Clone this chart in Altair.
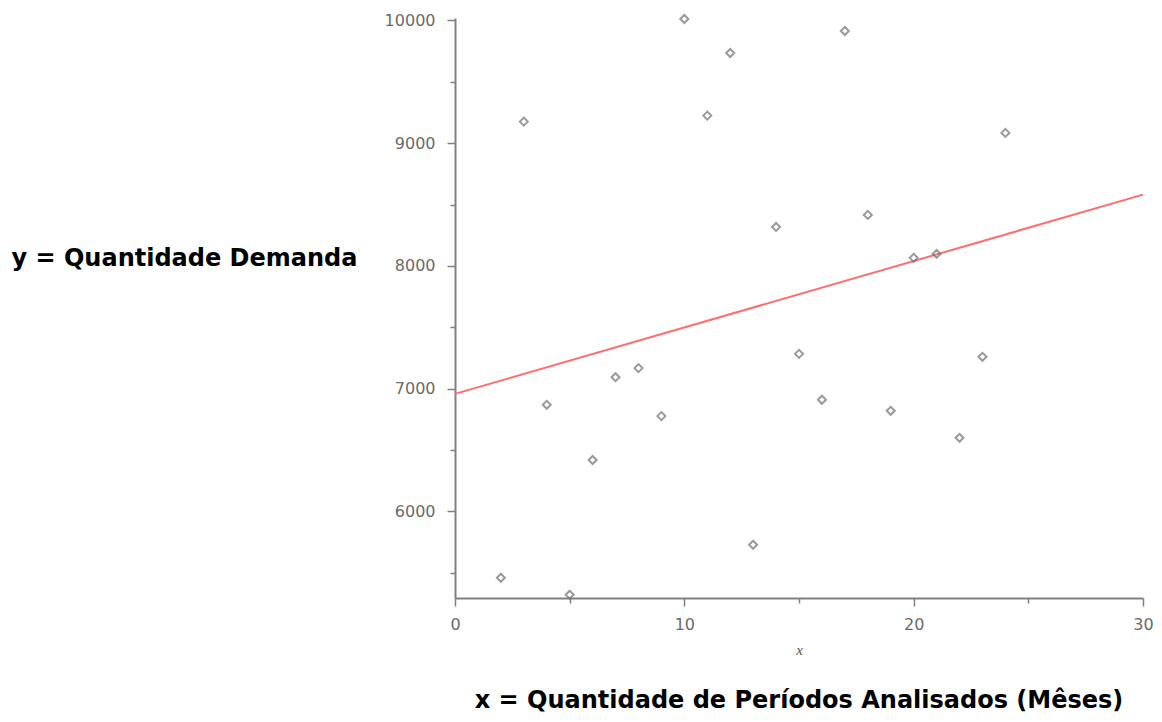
import altair as alt
import pandas as pd

# Data
months = [2, 3, 4, 5, 6, 7, 8, 9, 10, 11, 12, 13, 14, 15, 16, 17, 18, 19, 20, 21, 22, 23, 24]
demand = [5460, 9176, 6869, 5322, 6419, 7094, 7168, 6777, 10012, 9225, 9735, 5729,
          8318, 7284, 6910, 9914, 8416, 6820, 8066, 8098, 6600, 7260, 9084]
fit_x = [0, 30]
fit_y = [6958, 8581]
x_ticks = [0, 5, 10, 15, 20, 25, 30]
y_ticks = [5500, 6000, 6500, 7000, 7500, 8000, 8500, 9000, 9500, 10000]

pts = pd.DataFrame({"x": months, "y": demand})
fit = pd.DataFrame({"x": fit_x, "y": fit_y})

GRAY = "#808080"
LABEL = "#6a6a6a"

x_scale = alt.Scale(domain=[0, 30], nice=False, zero=False)
y_scale = alt.Scale(domain=[5295, 10020], nice=False, zero=False)

x_axis = alt.Axis(
    values=x_ticks,
    format="d",
    labelExpr="datum.value % 10 === 0 ? datum.label : ''",
    tickSize={"condition": {"test": "datum.value % 10 === 0", "value": 8}, "value": 5},
    labelFlush=False,
    labelOverlap=False,
    labelPadding=10,
    labelFont="DejaVu Sans",
    labelFontSize=16,
    labelColor=LABEL,
    domainColor=GRAY,
    domainWidth=2,
    tickColor=GRAY,
    tickWidth=1.5,
    grid=False,
    title="x",
    titleFont="Liberation Serif",
    titleFontStyle="italic",
    titleFontWeight="normal",
    titleFontSize=15,
    titleColor="#555555",
    titlePadding=10,
)

y_axis = alt.Axis(
    values=y_ticks,
    format="d",
    labelExpr="datum.value % 1000 === 0 ? datum.label : ''",
    tickSize={"condition": {"test": "datum.value % 1000 === 0", "value": 8}, "value": 5},
    labelOverlap=False,
    labelPadding=12,
    labelFont="DejaVu Sans",
    labelFontSize=16,
    labelColor=LABEL,
    domainColor=GRAY,
    domainWidth=2,
    tickColor=GRAY,
    tickWidth=1.5,
    grid=False,
    title="y = Quantidade Demanda",
    titleAngle=0,
    titleAlign="left",
    titleBaseline="alphabetic",
    titleX=-444,
    titleY=247,
    titleFont="DejaVu Sans",
    titleFontWeight="bold",
    titleFontSize=24,
    titleColor="#000000",
)

points = alt.Chart(pts).mark_point(
    shape="diamond", filled=False, stroke="#707070", strokeWidth=2, size=64
).encode(
    x=alt.X("x:Q", scale=x_scale, axis=x_axis),
    y=alt.Y("y:Q", scale=y_scale, axis=y_axis),
)

line = alt.Chart(fit).mark_line(color="#ff6e6e", strokeWidth=2).encode(
    x=alt.X("x:Q", scale=x_scale),
    y=alt.Y("y:Q", scale=y_scale),
)

chart = alt.layer(line, points).properties(
    width=688,
    height=580,
    view=alt.ViewBackground(strokeOpacity=0, strokeWidth=0),
    padding={"left": 3, "top": 2, "right": 0, "bottom": 0},
    title=alt.TitleParams(
        "x = Quantidade de Períodos Analisados (Mêses)",
        orient="bottom",
        anchor="middle",
        frame="group",
        font="DejaVu Sans",
        fontSize=24,
        fontWeight="bold",
        color="#000000",
        offset=32,
    ),
).configure_view(strokeOpacity=0, strokeWidth=0).configure(background="white")

chart.save("out.html", embed_options={"renderer": "svg", "actions": False})
